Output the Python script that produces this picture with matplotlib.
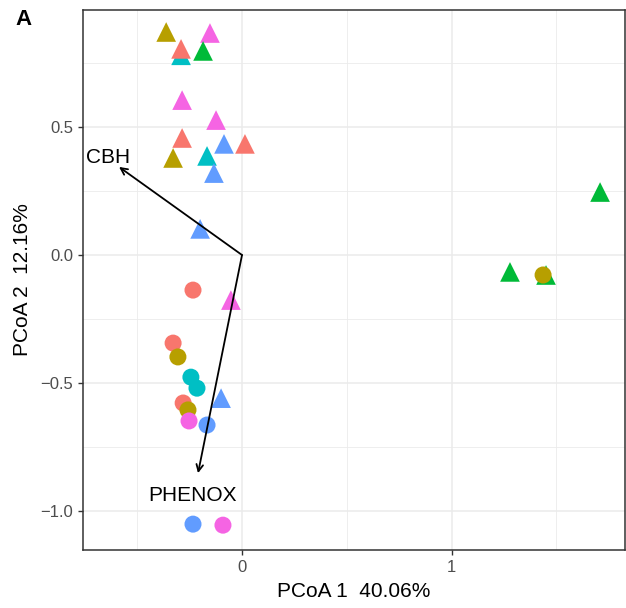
import matplotlib
matplotlib.use('Agg')
import matplotlib.pyplot as plt
from matplotlib.ticker import MultipleLocator

plt.rcParams['font.family'] = ['Liberation Sans', 'DejaVu Sans']

# group colours (ggplot hue palette)
colors = ['#F8766D', '#B79F00', '#00BA38', '#00BFC4', '#619CFF', '#F564E3']

# triangles: (x, y, colour index)
tri_x = [-0.291, -0.362, -0.153, -0.291, -0.186, -0.286, -0.124, -0.286, -0.086,
         0.014, -0.329, -0.167, -0.134, -0.200, -0.053, -0.100, 1.279, 1.451, 1.709]
tri_y = [0.780, 0.871, 0.867, 0.805, 0.797, 0.605, 0.527, 0.457, 0.434,
         0.434, 0.379, 0.387, 0.320, 0.102, -0.176, -0.559, -0.066, -0.078, 0.246]
tri_c = [3, 1, 5, 0, 2, 5, 5, 0, 4, 0, 1, 3, 4, 4, 5, 4, 2, 2, 2]

# circles
cir_x = [1.437, -0.234, -0.329, -0.306, -0.244, -0.215, -0.281, -0.258, -0.253,
         -0.167, -0.234, -0.091]
cir_y = [-0.078, -0.137, -0.344, -0.398, -0.477, -0.520, -0.578, -0.605, -0.648,
         -0.664, -1.051, -1.055]
cir_c = [1, 0, 0, 1, 3, 3, 0, 1, 5, 4, 4, 5]

# environmental vectors
vec_names = ['CBH', 'PHENOX']
vec_x = [-0.587, -0.21]
vec_y = [0.344, -0.852]
lab_x = [-0.64, -0.234]
lab_y = [0.379, -0.94]

fig = plt.figure(figsize=(6.26, 6.08), dpi=100)
ax = fig.add_axes([0.1326, 0.0954, 0.8658, 0.8882])

ax.scatter(tri_x, tri_y, marker='^', s=200, c=[colors[i] for i in tri_c],
           linewidths=0, zorder=3)
ax.scatter(cir_x, cir_y, marker='o', s=150, c=[colors[i] for i in cir_c],
           linewidths=0, zorder=3)

for name, vx, vy, lx, ly in zip(vec_names, vec_x, vec_y, lab_x, lab_y):
    ax.annotate('', xy=(vx, vy), xytext=(0, 0),
                arrowprops=dict(arrowstyle='->', color='black', lw=1.3,
                                shrinkA=0, shrinkB=0, mutation_scale=12),
                zorder=4)
    ax.text(lx, ly, name, ha='center', va='center', fontsize=15, color='black', zorder=5)

ax.set_xlim(-0.759, 1.828)
ax.set_ylim(-1.152, 0.957)
ax.xaxis.set_minor_locator(MultipleLocator(0.5))
ax.yaxis.set_minor_locator(MultipleLocator(0.25))
ax.set_xticks([0, 1])
ax.set_xticklabels(['0', '1'])
ax.set_yticks([-1.0, -0.5, 0.0, 0.5])
ax.set_yticklabels(['\u22121.0', '\u22120.5', '0.0', '0.5'])

ax.grid(which='major', color='#EBEBEB', lw=1.1, zorder=0)
ax.grid(which='minor', color='#EBEBEB', lw=0.6, zorder=0)
ax.set_axisbelow(True)
ax.tick_params(which='minor', length=0)
ax.tick_params(which='major', length=3.6, width=1, pad=3.5, color='#333333',
               labelcolor='#4D4D4D', labelsize=12)
for sp in ax.spines.values():
    sp.set_color('#333333')
    sp.set_linewidth(1.1)

ax.set_xlabel('PCoA 1  40.06%', fontsize=15, color='black', labelpad=5)
ax.set_ylabel('PCoA 2  12.16%', fontsize=15, color='black', labelpad=6)

fig.text(0.025, 0.985, 'A', fontsize=16, fontweight='bold', va='top', ha='left')

fig.savefig('out.png', dpi=100)
